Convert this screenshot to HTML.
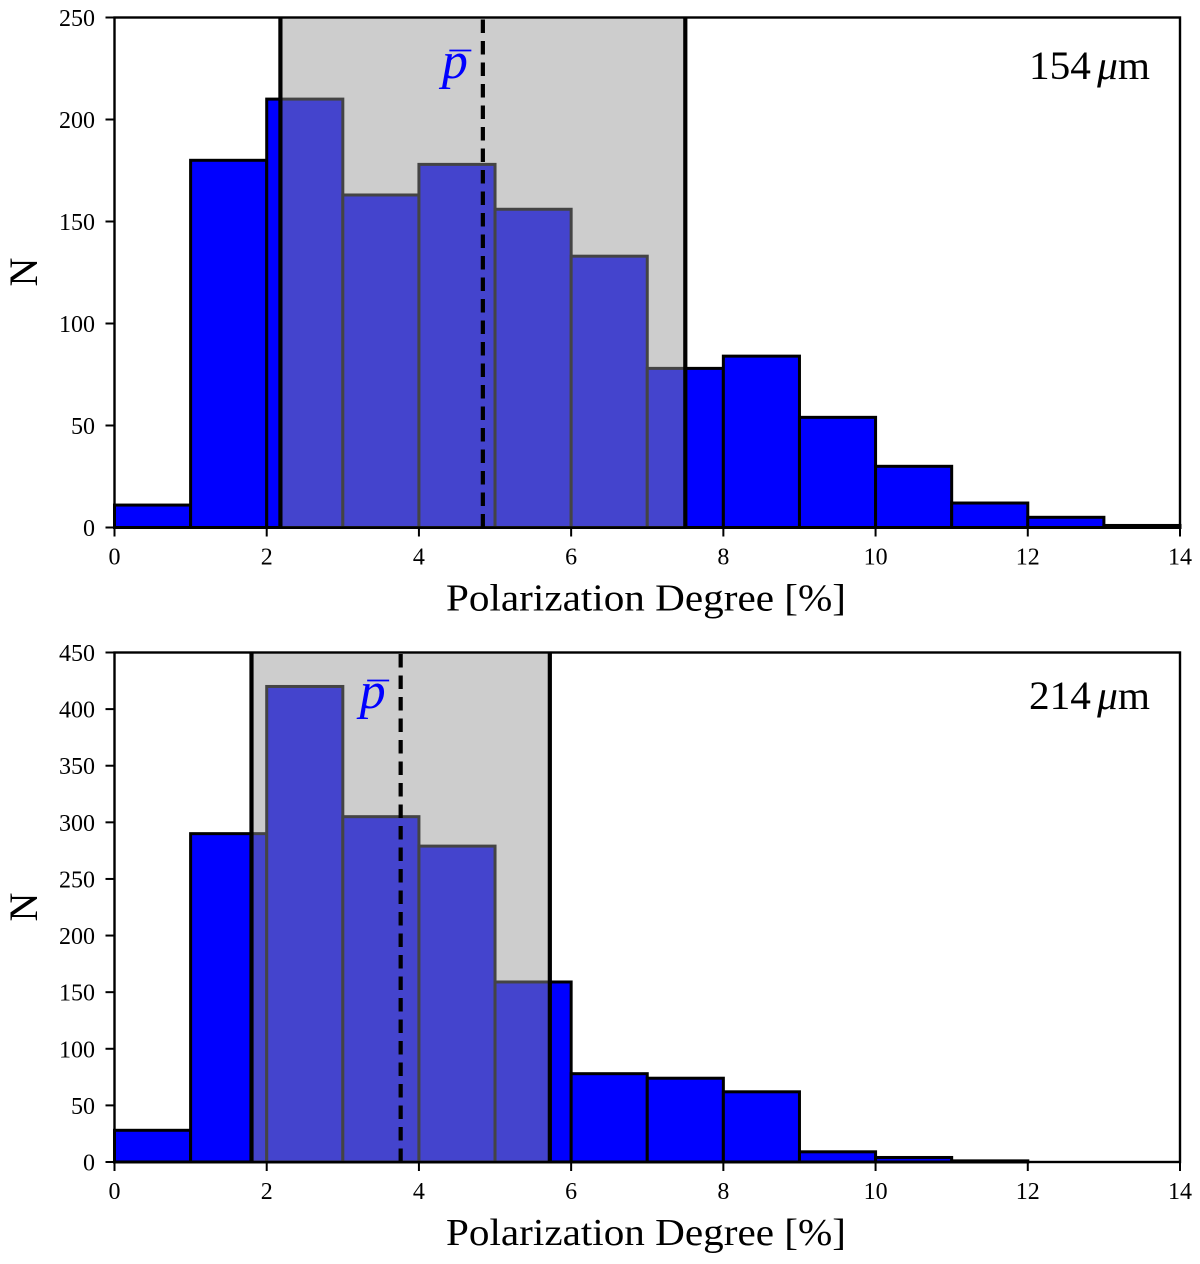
<!DOCTYPE html>
<html lang="en">
<head>
<meta charset="utf-8">
<title>Polarization Degree Histograms</title>
<style>
html,body{margin:0;padding:0;background:#fff;}
svg{display:block;}
text{font-family:"Liberation Serif",serif;fill:#000;}
</style>
</head>
<body>
<svg id="figure" xmlns="http://www.w3.org/2000/svg" width="1200" height="1264" viewBox="0 0 1200 1264"></svg>
<script>
const binEdgesStart = 0;
const binWidth = 1;
const xTicks = [0, 2, 4, 6, 8, 10, 12, 14];

const counts154 = [11, 180, 210, 163, 178, 156, 133, 78, 84, 54, 30, 12, 5, 1];
const yTicks154 = [0, 50, 100, 150, 200, 250];
const span154 = [2.18, 7.5];
const mean154 = 4.84;
const xRange154 = [0, 14];
const yRange154 = [0, 250];
const label154 = "154";

const counts214 = [28, 290, 420, 305, 279, 159, 78, 74, 62, 9, 4, 1, 0, 0];
const yTicks214 = [0, 50, 100, 150, 200, 250, 300, 350, 400, 450];
const span214 = [1.8, 5.72];
const mean214 = 3.76;
const xRange214 = [0, 14];
const yRange214 = [0, 450];
const label214 = "214";

const svgNS = "http://www.w3.org/2000/svg";
const figure = document.getElementById("figure");

function make(tag, parent, attrs) {
  const el = document.createElementNS(svgNS, tag);
  for (const k in attrs) el.setAttribute(k, attrs[k]);
  parent.appendChild(el);
  return el;
}

function drawPanel(cfg) {
  const L = 114.5, R = 1180, T = cfg.top, B = cfg.bottom;
  const xScale = v => L + (v - cfg.xRange[0]) / (cfg.xRange[1] - cfg.xRange[0]) * (R - L);
  const yScale = v => B - (v - cfg.yRange[0]) / (cfg.yRange[1] - cfg.yRange[0]) * (B - T);

  const panel = make("g", figure, {});
  
  

  cfg.counts.forEach((c, i) => {
    const x0 = xScale(binEdgesStart + i * binWidth);
    const x1 = xScale(binEdgesStart + (i + 1) * binWidth);
    const y = yScale(c);
    const bar = make("rect", panel, {
      x: x0, y: y, width: x1 - x0, height: B - y,
      fill: "#0000ff", stroke: "#000", "stroke-width": 3
    });
    
    
  });

  const sx0 = xScale(cfg.span[0]);
  const sx1 = xScale(cfg.span[1]);
  const band = make("rect", panel, {
    x: sx0, y: T, width: sx1 - sx0, height: B - T,
    fill: "rgb(147,147,147)", "fill-opacity": 0.463
  });
  
  

  const bandLeft = make("line", panel, {
    x1: sx0, x2: sx0, y1: T, y2: B, stroke: "#000", "stroke-width": 4.2
  });
  
  

  const bandRight = make("line", panel, {
    x1: sx1, x2: sx1, y1: T, y2: B, stroke: "#000", "stroke-width": 4.2
  });
  
  

  const mx = xScale(cfg.mean);
  const meanLine = make("line", panel, {
    x1: mx, x2: mx, y1: B, y2: T, stroke: "#000", "stroke-width": 4.2,
    "stroke-dasharray": "13.5 8"
  });
  
  

  const meanLabel = make("text", panel, {
    x: mx - 41, y: cfg.pBaseline, "font-size": 52, "font-style": "italic",
    style: "fill:#0000ff"
  });
  meanLabel.textContent = "p";
  
  

  const meanBar = make("line", panel, {
    x1: mx - 33.5, x2: mx - 11.5, y1: cfg.pBaseline - 27.5, y2: cfg.pBaseline - 27.5,
    stroke: "#0000ff", "stroke-width": 1.8
  });
  
  

  const frame = make("rect", panel, {
    x: L, y: T, width: R - L, height: B - T,
    fill: "none", stroke: "#000", "stroke-width": 2.4
  });
  
  

  xTicks.forEach(t => {
    const x = xScale(t);
    const tick = make("line", panel, {
      x1: x, x2: x, y1: B, y2: B + 9, stroke: "#000", "stroke-width": 2
    });
    
    
    const label = make("text", panel, {
      x: x, y: B + 37, "font-size": 24, "text-anchor": "middle"
    });
    label.textContent = t;
    
    
  });

  cfg.yTicks.forEach(t => {
    const y = yScale(t);
    const tick = make("line", panel, {
      x1: L - 9, x2: L, y1: y, y2: y, stroke: "#000", "stroke-width": 2
    });
    
    
    const label = make("text", panel, {
      x: 95, y: y + 8.5, "font-size": 24, "text-anchor": "end"
    });
    label.textContent = t;
    
    
  });

  const xTitle = make("text", panel, {
    x: 446, y: B + 83, "font-size": 38,
    textLength: 400, lengthAdjust: "spacingAndGlyphs"
  });
  xTitle.textContent = "Polarization Degree [%]";
  
  

  const yMid = cfg.yTitleCenter;
  const yTitle = make("text", panel, {
    x: 0, y: 0, "font-size": 40, "text-anchor": "middle",
    transform: "translate(37 " + yMid + ") rotate(-90)"
  });
  yTitle.textContent = "N";
  
  

  const wave = make("text", panel, {
    x: 1029, y: cfg.waveBaseline, "font-size": 40,
    textLength: 121, lengthAdjust: "spacingAndGlyphs"
  });
  
  
  const waveNum = make("tspan", wave, {});
  waveNum.textContent = cfg.label;
  const waveMu = make("tspan", wave, { dx: 6, "font-style": "italic" });
  waveMu.textContent = "\u03bc";
  const waveUnit = make("tspan", wave, {});
  waveUnit.textContent = "m";
}

drawPanel({
  name: "panel-154-micron", top: 17.5, bottom: 527.5,
  counts: counts154, yTicks: yTicks154, span: span154, mean: mean154,
  xRange: xRange154, yRange: yRange154, label: label154,
  pBaseline: 78, waveBaseline: 79, yTitleCenter: 272
});
drawPanel({
  name: "panel-214-micron", top: 652.5, bottom: 1162,
  counts: counts214, yTicks: yTicks214, span: span214, mean: mean214,
  xRange: xRange214, yRange: yRange214, label: label214,
  pBaseline: 708, waveBaseline: 709, yTitleCenter: 907
});
</script>
</body>
</html>
